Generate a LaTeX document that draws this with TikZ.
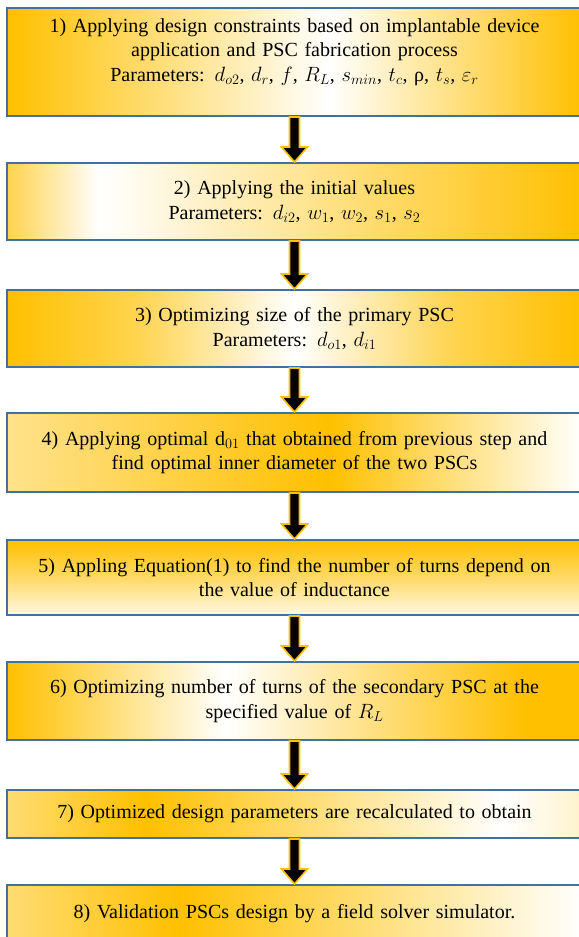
\documentclass[tikz,border=0pt]{standalone}
\usepackage{fontspec}
\setmainfont{Liberation Serif}
\usetikzlibrary{calc}
\definecolor{psgold}{RGB}{255,192,0}
\definecolor{boxblue}{RGB}{65,113,156}
% gold / white fills of the eight steps
\pgfdeclarehorizontalshading{shadeA}{100bp}{color(0bp)=(psgold); color(25bp)=(psgold); color(53bp)=(white); color(75bp)=(psgold); color(100bp)=(psgold)}
\pgfdeclarehorizontalshading{shadeB}{100bp}{color(0bp)=(psgold!70); color(25bp)=(psgold!70); color(33bp)=(white); color(75bp)=(psgold); color(100bp)=(psgold)}
\pgfdeclarehorizontalshading{shadeC}{100bp}{color(0bp)=(psgold); color(25bp)=(psgold); color(36bp)=(psgold!70); color(50bp)=(white); color(64bp)=(psgold!70); color(75bp)=(psgold); color(100bp)=(psgold)}
\pgfdeclarehorizontalshading{shadeD}{100bp}{color(0bp)=(psgold!45); color(25bp)=(psgold!45); color(53bp)=(psgold); color(75bp)=(white); color(100bp)=(white)}
\pgfdeclareverticalshading{shadeE}{100bp}{color(0bp)=(psgold!10); color(25bp)=(psgold!10); color(50bp)=(psgold!60); color(75bp)=(psgold); color(100bp)=(psgold)}
\pgfdeclarehorizontalshading{shadeF}{100bp}{color(0bp)=(psgold); color(25bp)=(psgold); color(44bp)=(white); color(70bp)=(psgold); color(100bp)=(psgold)}
\pgfdeclarehorizontalshading{shadeG}{100bp}{color(0bp)=(psgold!55); color(25bp)=(psgold!55); color(37bp)=(psgold); color(68bp)=(white); color(75bp)=(psgold!20); color(100bp)=(psgold!20)}
\pgfdeclarehorizontalshading{shadeH}{100bp}{color(0bp)=(psgold!55); color(25bp)=(psgold!55); color(40bp)=(psgold); color(75bp)=(white); color(100bp)=(white)}
\begin{document}
\begin{tikzpicture}[x=1bp, y=-1bp,
    stepbox/.style = {draw=boxblue, line width=2bp, rectangle, inner sep=0pt,
        text width=575bp, align=center, font=\fontsize{20bp}{24.5bp}\selectfont},
    flowarrow/.style = {draw=psgold, fill=black, line width=1.6bp, line join=miter}]
    \useasboundingbox (0,0) rectangle (579,937);

    \node[stepbox, shading=shadeA, minimum height=108bp] (s1) at (294.5,62) {1) Applying design constraints based on implantable device\\ application and PSC fabrication process\\ Parameters: $d_{o2}$, $d_r$, $f$, $R_L$, $s_{min}$, $t_c$, ρ, $t_s$, $\varepsilon_r$\\ \mbox{}};
    \node[stepbox, shading=shadeB, minimum height=77bp] (s2) at (294.5,201.5) {2) Applying the initial values\\ Parameters: $d_{i2}$, $w_1$, $w_2$, $s_1$, $s_2$};
    \node[stepbox, shading=shadeC, minimum height=77bp] (s3) at (294.5,328.5) {3) Optimizing size of the primary PSC\\ Parameters: $d_{o1}$, $d_{i1}$};
    \node[stepbox, shading=shadeD, minimum height=79bp] (s4) at (294.5,452.5) {4) Applying optimal d$_{01}$ that obtained from previous step and\\ find optimal inner diameter of the two PSCs};
    \node[stepbox, shading=shadeE, minimum height=75bp] (s5) at (294.5,577.5) {5) Appling Equation(1) to find the number of turns depend on\\ the value of inductance};
    \node[stepbox, shading=shadeF, minimum height=78bp] (s6) at (294.5,701) {6) Optimizing number of turns of the secondary PSC at the\\ specified value of $R_L$};
    \node[stepbox, shading=shadeG, minimum height=48bp] (s7) at (294.5,814) {7) Optimized design parameters are recalculated to obtain};
    \node[stepbox, shading=shadeH, minimum height=58bp] (s8) at (294.5,914) {8) Validation PSCs design by a field solver simulator.};

    % block arrows between the steps
    \foreach \a/\b in {s1/s2, s2/s3, s3/s4, s4/s5, s5/s6, s6/s7, s7/s8}
        \draw[flowarrow] let \p1 = (\a.south), \p2 = (\b.north) in
            (\x1-5bp,\y1) -- (\x1+5bp,\y1) -- (\x2+5bp,\y2+15bp) -- (\x2+13bp,\y2+15bp)
            -- (\x2,\y2) -- (\x2-13bp,\y2+15bp) -- (\x2-5bp,\y2+15bp) -- cycle;
\end{tikzpicture}
\end{document}
